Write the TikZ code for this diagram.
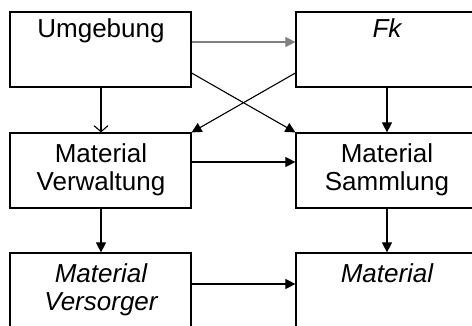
\documentclass[tikz,border=0pt]{standalone}
\usepackage{fontspec}
\setmainfont{Liberation Sans}
\usetikzlibrary{arrows.meta}
\begin{document}
\begin{tikzpicture}[x=1pt,y=-1pt,
  box/.style={draw, line width=1.2pt, minimum width=181pt, minimum height=75pt, inner sep=0pt},
  lbl/.style={inner sep=0pt, align=center, font=\fontsize{26}{28}\selectfont},
  conn/.style={line width=1.1pt, -{Triangle[length=10pt,width=10pt]}},
  openconn/.style={line width=1.1pt, -{Straight Barb[length=6pt,width=14pt,line width=1.1pt]}},
  grayconn/.style={line width=1.1pt, draw={rgb,255:red,128;green,128;blue,128}, -{Triangle[length=10pt,width=10pt]}}]
\useasboundingbox (0,0) rectangle (472,325);
\begin{scope}
\clip (0,0) rectangle (472,325);
\node[box] (umg) at (100.5,49.5) {};
\node[box] (fk) at (386.5,49.5) {};
\node[box] (verw) at (100.5,170.5) {};
\node[box] (samm) at (386.5,170.5) {};
\node[box] (vers) at (100.5,290.5) {};
\node[box] (mat) at (386.5,290.5) {};
\end{scope}
\node[lbl, anchor=base] (tumg) at (101,37.7) {Umgebung};
\node[lbl, anchor=base] (tfk) at (387,37.7) {\itshape Fk};
\node[lbl, anchor=base] (tverw) at (101,190) {Material\\Verwaltung};
\node[lbl, anchor=base] (tsamm) at (387,190) {Material\\Sammlung};
\node[lbl, anchor=base] (tvers) at (101,310) {\itshape Material\\\itshape Versorger};
\node[lbl, anchor=base] (tmat) at (387,282) {\itshape Material};
% connectors
\draw[grayconn] (umg.east |- 0,42) -- (fk.west |- 0,42);
\draw[openconn] (umg.south -| 101,0) -- (verw.north -| 101,0);
\draw[conn] (fk.south -| 387,0) -- (samm.north -| 387,0);
\draw[conn] (umg.east |- 0,73) -- (samm.north west);
\draw[conn] (fk.west |- 0,73) -- (verw.north east);
\draw[conn] (verw.east |- 0,162) -- (samm.west |- 0,162);
\draw[conn] (verw.south -| 101,0) -- (vers.north -| 101,0);
\draw[conn] (samm.south -| 387,0) -- (mat.north -| 387,0);
\draw[conn] (vers.east |- 0,284) -- (mat.west |- 0,284);
\end{tikzpicture}
\end{document}
